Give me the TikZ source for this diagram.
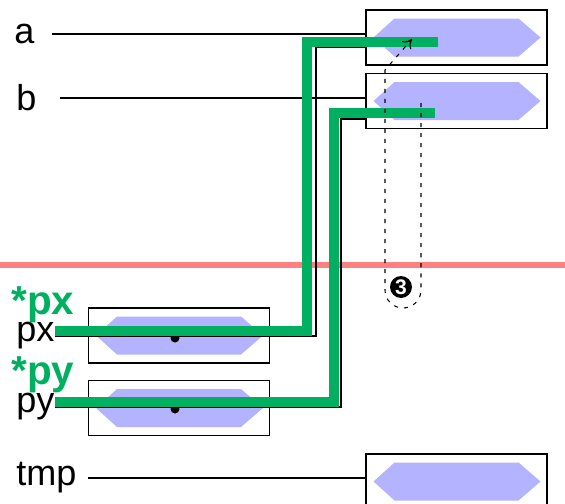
\documentclass[tikz,border=0pt]{standalone}
\usepackage{fontspec}
\setmainfont{Liberation Sans}
\usetikzlibrary{arrows.meta,calc}
\definecolor{ptrgreen}{RGB}{0,176,96}
\definecolor{hexblue}{RGB}{179,179,255}
\definecolor{cutred}{RGB}{255,128,128}
\begin{document}
\begin{tikzpicture}[x=0.02cm,y=-0.02cm,
    cell/.style={draw,fill=white,line width=0.8pt,minimum width=3.62cm,minimum height=1.1cm,inner sep=0pt},
    lbl/.style={anchor=west,inner sep=0pt,font=\fontsize{20.5}{24}\selectfont},
    ptrlbl/.style={anchor=base west,inner sep=0pt,text=ptrgreen,font=\fontsize{23}{26}\selectfont\bfseries},
    wire/.style={line width=0.6pt},
    ptr/.style={ptrgreen,line width=5.2pt},
    dot/.style={circle,fill=black,minimum size=0.18cm,inner sep=0pt},
    hexa/.pic={\fill[hexblue] (-83,0) -- (-62,-19) -- (62,-19) -- (84,0) -- (62,19) -- (-62,19) -- cycle;}]
    \useasboundingbox (0,0) rectangle (565,504);
    %% Cut line
    \draw[cutred,line width=3.4pt] (0,265) -- (565,265);
    %% Cells
    \node[cell] (boxA) at (456.5,37.5) {};
    \node[cell] (boxB) at (456.5,101) {};
    \node[cell] (boxPx) at (179,335.5) {};
    \node[cell] (boxPy) at (179,408) {};
    \node[cell] (boxTmp) at (456.5,481.5) {};
    \pic at (boxA.center) {hexa};
    \pic at (boxB.center) {hexa};
    \pic at (boxPx.center) {hexa};
    \pic at (boxPy.center) {hexa};
    \pic at (boxTmp.center) {hexa};
    %% Names
    \node[lbl] (labA) at (14,34) {a};
    \node[lbl] (labB) at (16,98) {b};
    \node[lbl] (labPx) at (16,336) {px};
    \node[lbl] (labPy) at (16,407) {py};
    \node[lbl] (labTmp) at (16,478) {tmp};
    \node[ptrlbl] (starPx) at (11,314) {*px};
    \node[ptrlbl] (starPy) at (11,384) {*py};
    %% Wires
    \coordinate (wa) at (52,34);
    \coordinate (wb) at (60,98);
    \coordinate (wt) at (88,478);
    \draw[wire] (wa) -- (wa -| boxA.west);
    \draw[wire] (wb) -- (wb -| boxB.west);
    \draw[wire] (wt) -- (wt -| boxTmp.west);
    \coordinate (jx) at (316,47);
    \coordinate (jy) at (341,119);
    \draw[wire] (labPx.east) -- (labPx.east -| jx) -- (jx) -- (jx -| boxA.west);
    \draw[wire] (labPy.east) -- (labPy.east -| jy) -- (jy) -- (jy -| boxA.west);
    \node[dot] (dPx) at (175,338) {};
    \node[dot] (dPy) at (175,409) {};
    %% Pointers
    \coordinate (px0) at (55,331);
    \coordinate (px1) at (307,42);
    \coordinate (px2) at (438,42);
    \coordinate (py0) at (55,402);
    \coordinate (py1) at (334,113);
    \coordinate (py2) at (435,113);
    \draw[ptr] (px0) -- (px0 -| px1) -- (px1) -- (px2);
    \draw[ptr] (py0) -- (py0 -| py1) -- (py1) -- (py2);
    %% Loop
    \coordinate (lp0) at (421,103);
    \coordinate (lp1) at (385,70);
    \coordinate (lp2) at (412,39);
    \draw[wire,dash pattern=on 2.3pt off 3.4pt,-{To[length=5pt,width=7pt]}] (lp0) -- ++(0,187) arc (0:180:18) -- (lp1) -- (lp2);
    \node[circle,fill=black,minimum size=0.44cm,inner sep=0pt,text=white,font=\fontsize{12}{12}\selectfont\bfseries] (n3) at (401,287) {3};
\end{tikzpicture}
\end{document}
